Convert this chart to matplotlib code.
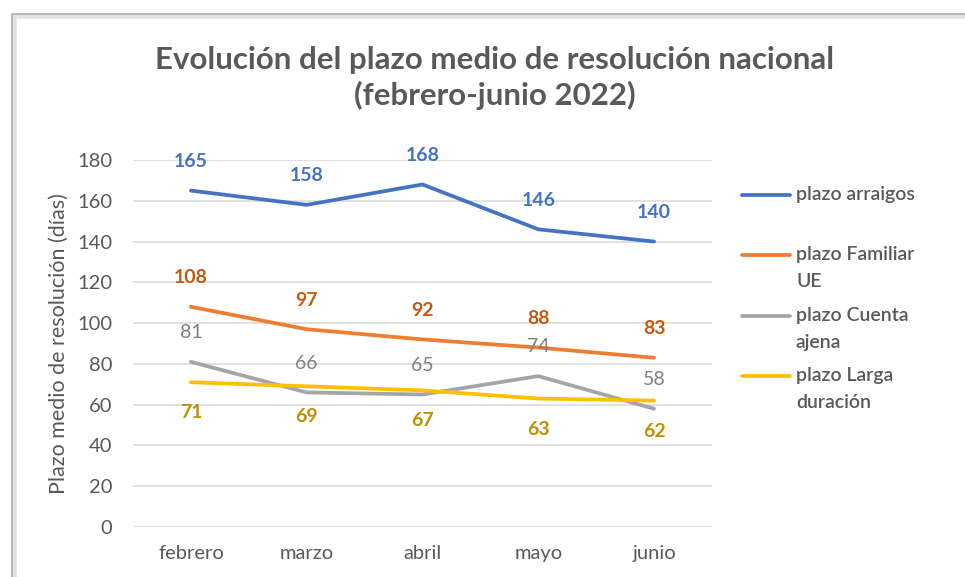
import matplotlib
matplotlib.use("Agg")
import matplotlib.pyplot as plt
from matplotlib.lines import Line2D
from matplotlib.patches import Rectangle
import numpy as np

# ── Datos ─────────────────────────────────────────────────────────────────────
meses = ["febrero", "marzo", "abril", "mayo", "junio"]
arraigos = [165, 158, 168, 146, 140]
familiar_ue = [108, 97, 92, 88, 83]
cuenta_ajena = [81, 66, 65, 74, 58]
larga_duracion = [71, 69, 67, 63, 62]

series_names = ["plazo arraigos", "plazo Familiar\nUE",
                "plazo Cuenta\najena", "plazo Larga\nduración"]

# ── Estilo ────────────────────────────────────────────────────────────────────
plt.rcParams["font.family"] = ["Lato", "DejaVu Sans"]
TXT = "#595959"
GRID = "#D9D9D9"
C_BLUE, C_ORANGE, C_GRAY, C_YELLOW = "#4472C4", "#ED7D31", "#A5A5A5", "#FFC000"
L_BLUE, L_ORANGE, L_GRAY, L_YELLOW = "#4472C4", "#C55A11", "#7F7F7F", "#BF9000"

fig = plt.figure(figsize=(9.65, 5.77), dpi=100, facecolor="white")
ax = fig.add_axes([133 / 965, 1 - 527 / 577, 579 / 965, 367 / 577])

# marco con sombra
fig.add_artist(Rectangle((14 / 965, -0.2), 1.2, 1.2 - 16 / 577,
                         transform=fig.transFigure, fill=False,
                         edgecolor="#E2E2E2", lw=4, clip_on=False, zorder=0))
fig.add_artist(Rectangle((12 / 965, -0.2), 1.2, 1.2 - 14 / 577,
                         transform=fig.transFigure, fill=False,
                         edgecolor="#B0B0B0", lw=1.2, clip_on=False, zorder=0))

xs = np.arange(len(meses))

data = [
    (arraigos, C_BLUE, L_BLUE, 21, "bold"),
    (familiar_ue, C_ORANGE, L_ORANGE, 21, "bold"),
    (cuenta_ajena, C_GRAY, L_GRAY, 21, "normal"),
    (larga_duracion, C_YELLOW, L_YELLOW, -22, "bold"),
]

for vals, c, lc, dy, fw in data:
    ax.plot(xs, vals, color=c, lw=2.7, solid_capstyle="round", zorder=3)
    for x, v in zip(xs, vals):
        ax.annotate(f"{v}", xy=(x, v), xytext=(0, dy), textcoords="offset points",
                    ha="center", va="center", fontsize=14, color=lc,
                    fontweight=fw)

ax.set_xlim(-0.5, 4.5)
ax.set_ylim(0, 180)
ax.set_yticks(np.arange(0, 181, 20))
ax.set_xticks(xs)
ax.set_xticklabels(meses)
ax.tick_params(axis="both", length=0, colors=TXT, labelsize=14.5)
ax.tick_params(axis="y", pad=15)
ax.tick_params(axis="x", pad=13)
ax.yaxis.grid(True, color=GRID, lw=1.1)
ax.set_axisbelow(True)
for sp in ax.spines.values():
    sp.set_visible(False)
ax.set_ylabel("Plazo medio de resolución (días)", color=TXT, fontsize=15.5, labelpad=6)

fig.text(495 / 965, 1 - 78 / 577,
         "Evolución del plazo medio de resolución nacional\n(febrero-junio 2022)",
         ha="center", va="center", fontsize=22.5, fontweight="bold", color=TXT,
         linespacing=1.3)

# ── Leyenda ───────────────────────────────────────────────────────────────────
leg_y = [195, 255, 316, 376]
for (vals, c, lc, dy, fw), name, y in zip(data, series_names, leg_y):
    yf = 1 - y / 577
    fig.add_artist(Line2D([742 / 965, 790 / 965], [yf, yf], color=c, lw=2.7,
                          solid_capstyle="round", transform=fig.transFigure))
    fig.text(796 / 965, yf + 9 / 577, name, ha="left", va="top", fontsize=14,
             fontweight="semibold", color=TXT, linespacing=1.7)

plt.savefig("out.png", dpi=100, facecolor="white")
